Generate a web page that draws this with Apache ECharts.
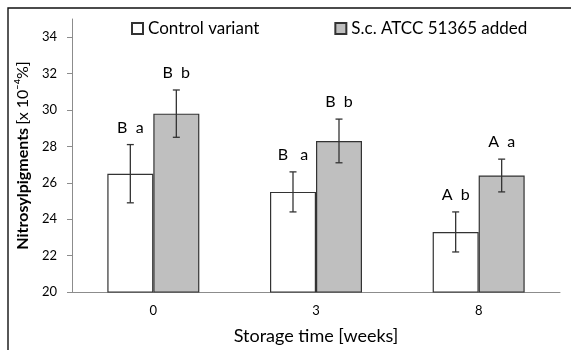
<!DOCTYPE html>
<html>
<head>
<meta charset="utf-8">
<script src="https://cdn.jsdelivr.net/npm/echarts@6/dist/echarts.min.js"></script>
<style>
  html, body { margin: 0; padding: 0; background: #fff; }
  #main { width: 571px; height: 350px; }
</style>
</head>
<body>
<div id="main"></div>
<script>
// data
var weeks = ['0', '3', '8'];
var controlMean = [26.5, 25.5, 23.3];
var controlErr = [1.6, 1.1, 1.1];
var controlLetters = ['B  a', 'B   a', 'A  b'];
var scMean = [29.8, 28.3, 26.4];
var scErr = [1.3, 1.2, 0.9];
var scLetters = ['B  b', 'B  b', 'A  a'];
var yTicks = [20, 22, 24, 26, 28, 30, 32, 34];

var FONT = 'Lato';
var barW = 46;

var myChart = echarts.init(document.getElementById('main'));

// error bars + letters, drawn next to each bar of the group
function errorSeries(name, means, errs, letters, side) {
  var data = means.map(function (m, i) { return [i, m, errs[i]]; });
  return {
    name: name + ' err',
    type: 'custom',
    z: 10,
    data: data,
    encode: { x: 0, y: 1 },
    renderItem: function (params, api) {
      var i = api.value(0);
      var m = api.value(1);
      var e = api.value(2);
      var top = api.coord([i, m + e]);
      var bot = api.coord([i, m - e]);
      var x = top[0] + side * barW / 2;
      var st = { stroke: '#333', lineWidth: 1.3 };
      return {
        type: 'group',
        children: [
          { type: 'line', shape: { x1: x, y1: top[1], x2: x, y2: bot[1] }, style: st },
          { type: 'line', shape: { x1: x - 3.5, y1: top[1], x2: x + 3.5, y2: top[1] }, style: st },
          { type: 'line', shape: { x1: x - 3.5, y1: bot[1], x2: x + 3.5, y2: bot[1] }, style: st },
          { type: 'text', x: x, y: top[1] - 9,
            style: { text: letters[params.dataIndex], fill: '#000', font: '16px ' + FONT,
                     textAlign: 'center', textVerticalAlign: 'bottom' } }
        ]
      };
    }
  };
}

var option = {
  animation: false,
  textStyle: { fontFamily: FONT },
  graphic: [{
    type: 'rect', z: -1,
    shape: { x: 8, y: 8, width: 700, height: 500 },
    style: { fill: 'none', stroke: '#111', lineWidth: 1.4 }
  }],
  legend: {
    top: 15, left: 126,
    itemWidth: 11, itemHeight: 11, itemGap: 75,
    icon: 'rect',
    textStyle: { fontSize: 17, color: '#000', fontFamily: FONT },
    data: ['Control variant', 'S.c. ATCC 51365 added']
  },
  grid: { left: 72, right: 11, top: 19, bottom: 58 },
  xAxis: {
    type: 'category',
    data: weeks,
    name: 'Storage time [weeks]',
    nameLocation: 'middle',
    nameGap: 35,
    nameTextStyle: { fontSize: 18, color: '#000', fontFamily: FONT },
    axisLine: { lineStyle: { color: '#8c8c8c' } },
    axisTick: { length: 5, lineStyle: { color: '#8c8c8c' } },
    axisLabel: { margin: 12, fontSize: 13, color: '#000', fontFamily: FONT }
  },
  yAxis: {
    type: 'value',
    min: 20, max: 35, interval: 2,
    name: '{b|Nitrosylpigments} {n|[x 10⁻⁴%]}',
    nameLocation: 'middle',
    nameGap: 41,
    nameTextStyle: {
      rich: {
        b: { fontSize: 16, fontWeight: 'bold', color: '#000', fontFamily: FONT },
        n: { fontSize: 16, color: '#000', fontFamily: FONT }
      }
    },
    splitLine: { show: false },
    axisLine: { show: true, lineStyle: { color: '#8c8c8c' } },
    axisTick: { show: true, length: 5, customValues: yTicks, lineStyle: { color: '#8c8c8c' } },
    axisLabel: { margin: 15, fontSize: 13, color: '#000', fontFamily: FONT, customValues: yTicks }
  },
  series: [
    {
      name: 'Control variant', type: 'bar',
      data: controlMean, barWidth: barW, barGap: '0%',
      itemStyle: { color: '#fff', borderColor: '#333', borderWidth: 1.2 }
    },
    {
      name: 'S.c. ATCC 51365 added', type: 'bar',
      data: scMean, barWidth: barW, barGap: '0%',
      itemStyle: { color: '#bfbfbf', borderColor: '#333', borderWidth: 1.2 }
    },
    errorSeries('Control variant', controlMean, controlErr, controlLetters, -1),
    errorSeries('S.c. ATCC 51365 added', scMean, scErr, scLetters, 1)
  ]
};

myChart.setOption(option);
</script>
</body>
</html>
